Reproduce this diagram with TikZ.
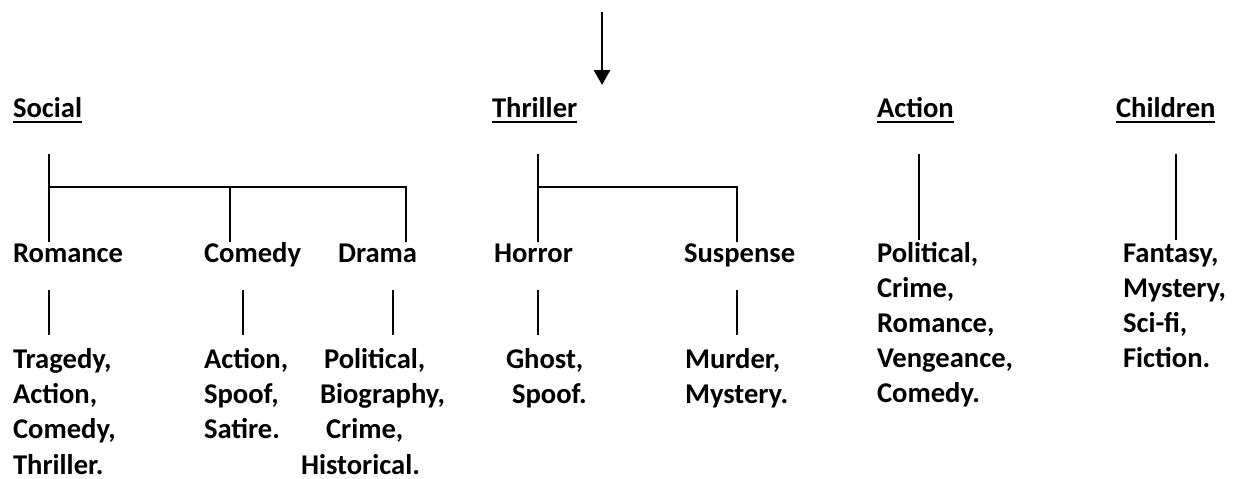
\documentclass[tikz,border=0pt]{standalone}
\usepackage{fontspec}
\setmainfont{Carlito}
\usetikzlibrary{arrows.meta}

\newcommand{\headline}[1]{\vtop{\hbox{#1}\kern2pt\hrule height 1pt}}

\begin{document}
\begin{tikzpicture}[x=0.5pt,y=-0.5pt,line width=1pt,
  every node/.style={inner sep=0pt,font=\fontsize{14.3}{17.6}\selectfont\bfseries},
  genre/.style={anchor=base west},
  list/.style={anchor=base west,align=left}]
  \useasboundingbox (0,0) rectangle (1234,478);

  % headings
  \path
  node[genre] (social)   at (12,117)   {\headline{Social}}
  node[genre] (thriller) at (491,117)  {\headline{Thriller}}
  node[genre] (action)   at (876,117)  {\headline{Action}}
  node[genre] (children) at (1115,117) {\headline{Children}}
  ;
  % second row
  \path
  node[genre] (romance)  at (12,262)  {Romance}
  node[genre] (comedy)   at (203,262) {Comedy}
  node[genre] (drama)    at (337,262) {Drama}
  node[genre] (horror)   at (493,262) {Horror}
  node[genre] (suspense) at (683,262) {Suspense}
  % lists: base is the last line
  node[list] (action_l)   at (876,402.8)  {Political,\\Crime,\\Romance,\\Vengeance,\\Comedy.}
  node[list] (children_l) at (1122,367.6) {Fantasy,\\Mystery,\\Sci-fi,\\Fiction.}
  ;
  % third row
  \path
  node[list] (romance_l)  at (12,474)  {Tragedy,\\Action,\\Comedy,\\Thriller.}
  node[list] (comedy_l)   at (203,438.8) {Action,\\Spoof,\\Satire.}
  node[list] (drama_l)    at (300,474) {\hspace*{11.5pt}Political,\\\hspace*{9.5pt}Biography,\\\hspace*{12.5pt}Crime,\\Historical.}
  node[list] (horror_l)   at (505,403.6) {Ghost,\\\hspace*{3pt}Spoof.}
  node[list] (suspense_l) at (684,403.6) {Murder,\\Mystery.}
  ;

  % line ends
  \coordinate (in)  at (602,12);
  \coordinate (out) at (602,85);
  \coordinate (s_0) at (49,154);  \coordinate (s_j) at (49,187);
  \coordinate (s_1) at (49,242);  \coordinate (s_2) at (230,242);
  \coordinate (s_3) at (406,242);
  \coordinate (t_0) at (538,154); \coordinate (t_j) at (538,187);
  \coordinate (t_1) at (538,242); \coordinate (t_2) at (737,242);
  \coordinate (a_0) at (919,154); \coordinate (a_1) at (919,240);
  \coordinate (c_0) at (1176,154); \coordinate (c_1) at (1176,240);

  \draw[line width=1.4pt,-{Triangle[length=7.5pt,width=8pt]}] (in) -- (out);

  \draw (s_0) -- (s_1);
  \draw (s_j) -| (s_2);
  \draw (s_j) -| (s_3);
  \draw (t_0) -- (t_1);
  \draw (t_j) -| (t_2);
  \draw (a_0) -- (a_1);
  \draw (c_0) -- (c_1);

  % short lines down to the sub-genres
  \foreach \x in {49,243,393,538,737}
    \draw (\x,290) -- (\x,335);
\end{tikzpicture}
\end{document}
